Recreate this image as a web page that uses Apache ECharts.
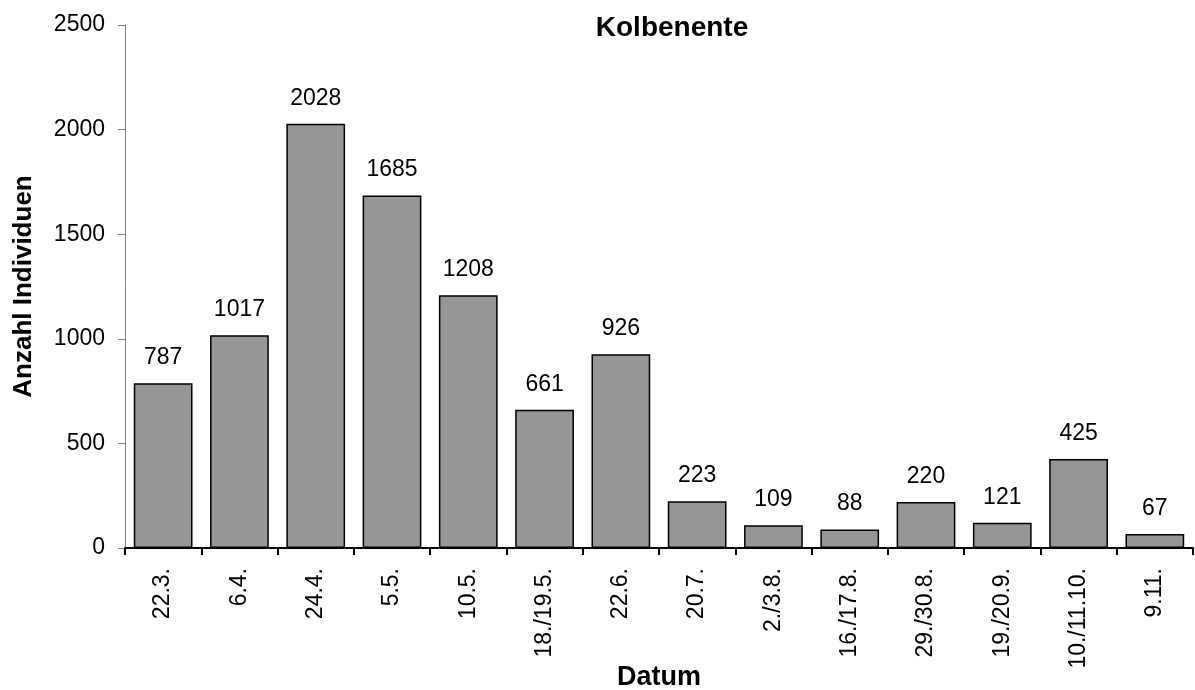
<!DOCTYPE html>
<html>
<head>
<meta charset="utf-8">
<script src="https://cdn.jsdelivr.net/npm/echarts@6/dist/echarts.min.js"></script>
<style>html,body{margin:0;padding:0;background:#fff}#c{width:1195px;height:690px}</style>
</head>
<body>
<div id="c"></div>
<script>
const categories = ['22.3.', '6.4.', '24.4.', '5.5.', '10.5.', '18./19.5.', '22.6.', '20.7.', '2./3.8.', '16./17.8.', '29./30.8.', '19./20.9.', '10./11.10.', '9.11.'];
const values = [787, 1017, 2028, 1685, 1208, 661, 926, 223, 109, 88, 220, 121, 425, 67];
const chartTitle = 'Kolbenente';
const xName = 'Datum';
const yName = 'Anzahl Individuen';

const FONT = '"Liberation Sans", Arial, sans-serif';
const chart = echarts.init(document.getElementById('c'), null, {renderer: 'canvas'});
chart.setOption({
  animation: false,
  backgroundColor: '#fff',
  title: {
    text: chartTitle, left: 672, top: 14, textAlign: 'center', padding: 0,
    textStyle: {fontFamily: FONT, fontSize: 28, fontWeight: 'bold', color: '#000'}
  },
  grid: {left: 125, right: 2, top: 25, bottom: 142, containLabel: false, outerBoundsMode: 'none'},
  xAxis: {
    type: 'category', data: categories,
    name: xName, nameLocation: 'middle', nameGap: 116, nameMoveOverlap: false,
    nameTextStyle: {fontFamily: FONT, fontSize: 27, fontWeight: 'bold', color: '#000'},
    axisLine: {lineStyle: {color: '#000', width: 2}},
    axisTick: {show: true, alignWithLabel: false, length: 7, lineStyle: {color: '#000', width: 2}},
    axisLabel: {rotate: 90, margin: 20, fontFamily: FONT, fontSize: 23, color: '#000', interval: 0}
  },
  yAxis: {
    type: 'value', min: 0, max: 2500, interval: 500,
    name: yName, nameLocation: 'middle', nameGap: 88, nameMoveOverlap: false,
    nameTextStyle: {fontFamily: FONT, fontSize: 26, fontWeight: 'bold', color: '#000'},
    axisLine: {show: true, lineStyle: {color: '#808080', width: 1}},
    axisTick: {show: true, length: 7, lineStyle: {color: '#808080', width: 1}},
    splitLine: {show: false},
    axisLabel: {margin: 20, fontFamily: FONT, fontSize: 23, color: '#000', formatter: v => String(v)}
  },
  series: [{
    type: 'bar', data: values, barCategoryGap: '23%',
    itemStyle: {color: '#969696', borderColor: '#000', borderWidth: 1.5},
    label: {show: true, position: 'top', distance: 14, fontFamily: FONT, fontSize: 23, color: '#000'}
  }]
});
</script>
</body>
</html>
